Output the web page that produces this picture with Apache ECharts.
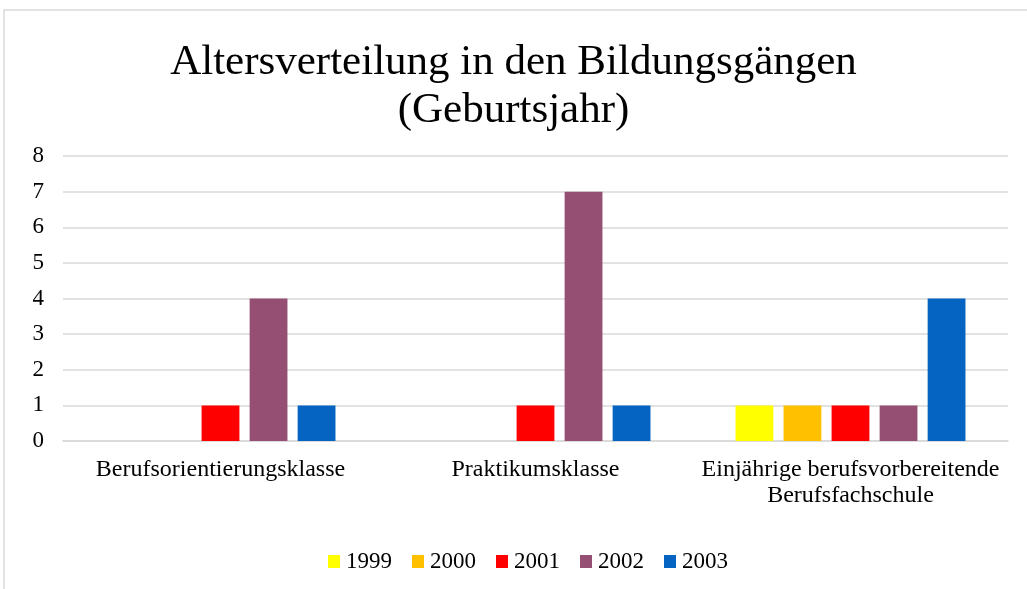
<!DOCTYPE html>
<html>
<head>
<meta charset="utf-8">
<script src="https://cdn.jsdelivr.net/npm/echarts@6/dist/echarts.min.js"></script>
<style>
  html, body { margin: 0; padding: 0; background: #fff; }
  #main { width: 1027px; height: 589px; }
</style>
</head>
<body>
<div id="main"></div>
<script>
// Altersverteilung in den Bildungsgängen
var categories = ['Berufsorientierungsklasse', 'Praktikumsklasse', 'Einjährige berufsvorbereitende\nBerufsfachschule'];
var years = ['1999', '2000', '2001', '2002', '2003'];
var v1999 = [0, 0, 1];
var v2000 = [0, 0, 1];
var v2001 = [1, 1, 1];
var v2002 = [4, 7, 1];
var v2003 = [1, 1, 4];
var colors = ['#FFFF00', '#FFC000', '#FF0000', '#954F72', '#0563C1'];

var values = [v1999, v2000, v2001, v2002, v2003];
var font = '"Liberation Serif", "Times New Roman", serif';

var series = [];
for (var i = 0; i < years.length; i++) {
    series.push({
        name: years[i],
        type: 'bar',
        data: values[i],
        itemStyle: { color: colors[i] },
        barGap: '27%',
        barCategoryGap: '27%'
    });
}

var myChart = echarts.init(document.getElementById('main'));
var option = {
    animation: false,
    color: colors,
    title: {
        text: 'Altersverteilung in den Bildungsgängen\n(Geburtsjahr)',
        left: 'center',
        top: 34,
        textStyle: {
            fontFamily: font,
            fontSize: 43,
            fontWeight: 'normal',
            color: '#000',
            lineHeight: 48
        }
    },
    legend: {
        top: 545,
        left: 323,
        itemWidth: 12,
        itemHeight: 13,
        itemGap: 20,
        icon: 'rect',
        textStyle: { fontFamily: font, fontSize: 23, color: '#000', padding: [0, 0, 0, 1] },
        data: years
    },
    grid: { left: 63, right: 19, top: 156, bottom: 148 },
    xAxis: {
        type: 'category',
        data: categories,
        axisLine: { lineStyle: { color: '#d9d9d9', width: 1.5 } },
        axisTick: { show: false },
        axisLabel: {
            interval: 0,
            hideOverlap: false,
            fontFamily: font,
            fontSize: 24,
            color: '#000',
            lineHeight: 26,
            margin: 16
        }
    },
    yAxis: {
        type: 'value',
        min: 0,
        max: 8,
        interval: 1,
        axisLine: { show: false },
        axisTick: { show: false },
        splitLine: { lineStyle: { color: '#d9d9d9', width: 1.5 } },
        axisLabel: { fontFamily: font, fontSize: 23, color: '#000', margin: 19 }
    },
    graphic: [{
        type: 'rect',
        shape: { x: 4, y: 10, width: 1100, height: 700 },
        style: { fill: 'none', stroke: '#d9d9d9', lineWidth: 1.5 },
        silent: true
    }],
    series: series
};
myChart.setOption(option);
</script>
</body>
</html>
